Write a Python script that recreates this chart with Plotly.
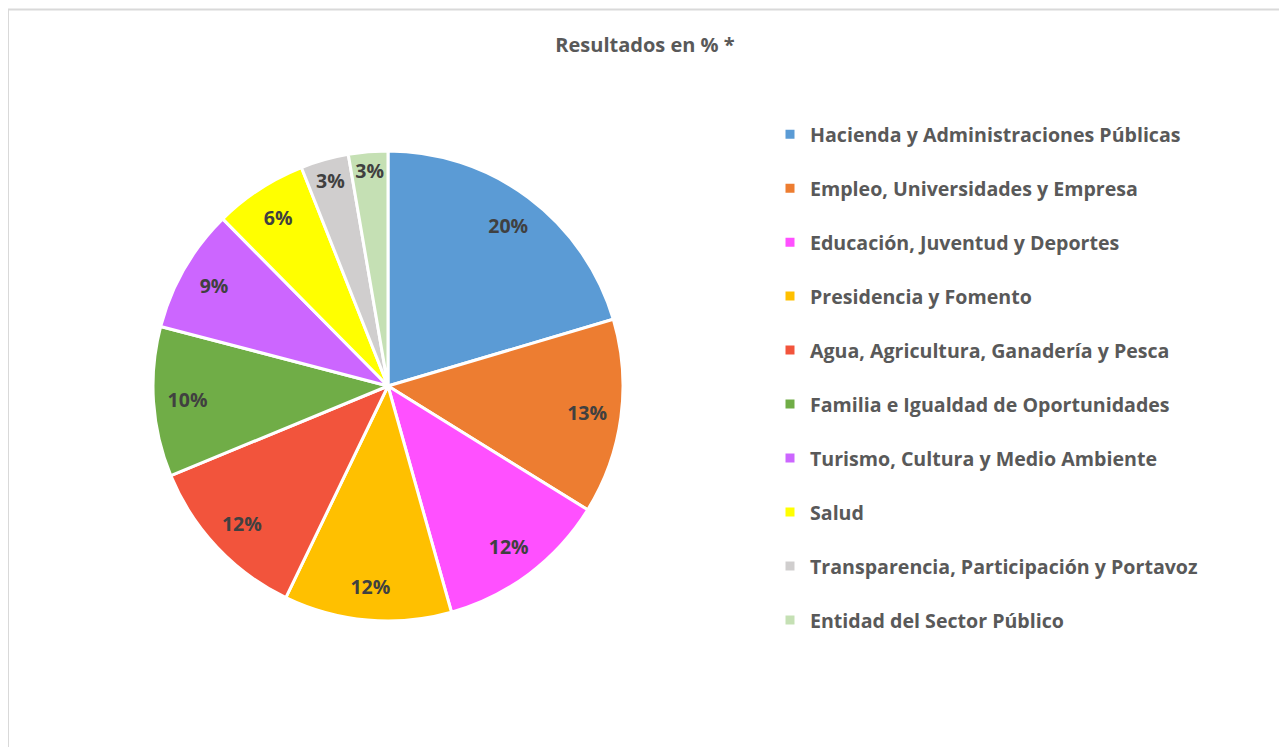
import plotly.graph_objects as go

labels = [
    "Hacienda y Administraciones Públicas",
    "Empleo, Universidades y Empresa",
    "Educación, Juventud y Deportes",
    "Presidencia y Fomento",
    "Agua, Agricultura, Ganadería y Pesca",
    "Familia e Igualdad de Oportunidades",
    "Turismo, Cultura y Medio Ambiente",
    "Salud",
    "Transparencia, Participación y Portavoz",
    "Entidad del Sector Público",
]
values = [20.4, 13.4, 11.8, 11.5, 11.6, 10.3, 8.5, 6.4, 3.3, 2.7]
colors = ["#5B9BD5", "#ED7D31", "#FF50FF", "#FFC000", "#F2543C",
          "#70AD47", "#CC66FF", "#FFFF00", "#D0CECE", "#C5E0B4"]
title = "Resultados en % *"

# figure placed at page offset (8, 8) by the html body margin
W, H = 1279, 739
FONT = "Open Sans"
CX, CY, R = 380, 378, 235
dom = dict(x=[(CX - R) / W, (CX + R) / W], y=[1 - (CY + R) / H, 1 - (CY - R) / H])
leg_labels = [l + "<br> " for l in labels]

# base pie: slices, borders, legend
fig = go.Figure(go.Pie(
    labels=leg_labels,
    values=values,
    sort=False,
    direction="clockwise",
    rotation=0,
    marker=dict(colors=colors, line=dict(color="white", width=3)),
    textinfo="none",
    domain=dom,
    hoverinfo="label+percent",
))
# transparent ring pie carrying the percentage labels near the rim
fig.add_trace(go.Pie(
    labels=leg_labels,
    values=values,
    sort=False,
    direction="clockwise",
    rotation=0,
    hole=0.71,
    marker=dict(colors=["rgba(0,0,0,0)"] * len(values), line=dict(width=0)),
    texttemplate="<b>%{percent:.0%}</b>",
    textposition="inside",
    insidetextorientation="horizontal",
    textfont=dict(family=FONT, size=19.5, color="#404040"),
    domain=dom,
    showlegend=False,
    hoverinfo="skip",
))

fig.update_layout(
    width=W, height=H,
    margin=dict(l=0, r=0, t=0, b=0),
    paper_bgcolor="white",
    plot_bgcolor="white",
    font=dict(family=FONT, color="#595959"),
    uniformtext=dict(minsize=19.5, mode="show"),
    title=dict(text="<b>" + title + "</b>", x=637 / W, xanchor="center",
               y=1 - 37 / H, yanchor="middle",
               font=dict(family=FONT, size=20, color="#595959")),
    legend=dict(
        x=762 / W, xanchor="left",
        y=1 - 107 / H, yanchor="top",
        valign="top",
        font=dict(family=FONT, size=19.6, color="#595959", weight="bold"),
        bgcolor="rgba(0,0,0,0)",
        itemclick=False,
    ),
    shapes=[dict(type="rect", xref="paper", yref="paper",
                 x0=0, x1=1276 / W, y0=-0.1, y1=1 - 1.5 / H,
                 line=dict(color="#D9D9D9", width=2), layer="below")],
)

fig.write_html("out.html")
